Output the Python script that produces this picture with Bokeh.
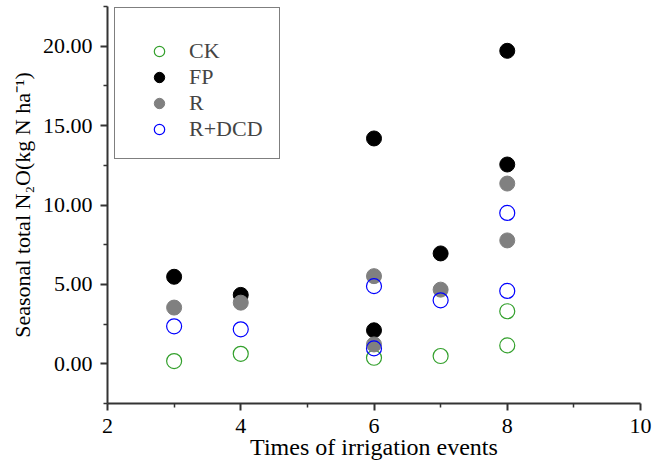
from bokeh.plotting import figure
from bokeh.models import Range1d, Legend, LegendItem, FixedTicker, CustomJSTickFormatter
from bokeh.embed import file_html
from bokeh.resources import INLINE

# Data
ck_x = [3, 4, 6, 7, 8, 8]
ck_y = [0.17, 0.63, 0.38, 0.49, 3.31, 1.16]
fp_x = [3, 4, 6, 6, 7, 8, 8]
fp_y = [5.48, 4.34, 14.19, 2.11, 6.95, 19.71, 12.55]
r_x = [3, 4, 6, 6, 7, 8, 8]
r_y = [3.54, 3.85, 5.52, 1.22, 4.67, 11.35, 7.77]
rd_x = [3, 4, 6, 6, 7, 8, 8]
rd_y = [2.36, 2.17, 4.89, 0.97, 4.00, 9.50, 4.59]

x_ticks = [2, 4, 6, 8, 10]
x_minor = [3, 5, 7, 9]
y_ticks = [0, 5, 10, 15, 20]
y_minor = [-2.5, 2.5, 7.5, 12.5, 17.5, 22.5]

FONT = "Liberation Serif"

p = figure(width=664, height=462, output_backend="svg", toolbar_location=None,
           x_range=Range1d(2, 10), y_range=Range1d(-2.5, 22.5),
           min_border_left=107, min_border_right=24, min_border_top=6,
           min_border_bottom=59)
p.outline_line_color = None
p.grid.visible = False
p.background_fill_color = "white"
p.border_fill_color = "white"

r_ck = p.scatter(ck_x, ck_y, size=15, fill_color=None, line_color="#33a02c", line_width=1.2)
r_fp = p.scatter(fp_x, fp_y, size=15, fill_color="black", line_color="black")
r_r = p.scatter(r_x, r_y, size=15, fill_color="#808080", line_color="#808080")
r_rd = p.scatter(rd_x, rd_y, size=15, fill_color=None, line_color="#0000ff", line_width=1.2)

for ax in (p.xaxis[0], p.yaxis[0]):
    ax.axis_line_width = 2
    ax.axis_line_color = "#333333"
    ax.major_tick_line_color = "#333333"
    ax.minor_tick_line_color = "#333333"
    ax.major_tick_line_width = 2
    ax.minor_tick_line_width = 1.5
    ax.major_tick_out = 7
    ax.major_tick_in = 0
    ax.minor_tick_out = 4
    ax.minor_tick_in = 0
    ax.major_label_text_font = FONT
    ax.major_label_text_font_size = "22px"
    ax.major_label_text_color = "black"
    ax.axis_label_text_font = FONT
    ax.axis_label_text_font_style = "normal"
    ax.axis_label_text_color = "black"

p.xaxis[0].ticker = FixedTicker(ticks=x_ticks, minor_ticks=x_minor)
p.yaxis[0].ticker = FixedTicker(ticks=y_ticks, minor_ticks=y_minor)
p.yaxis[0].formatter = CustomJSTickFormatter(code="return tick.toFixed(2);")
p.xaxis[0].axis_label = "Times of irrigation events"
p.yaxis[0].axis_label = "Seasonal total N\u2082O(kg N ha\u207b\u00b9)"
p.xaxis[0].axis_label_text_font_size = "24px"
p.yaxis[0].axis_label_text_font_size = "22px"
p.xaxis[0].major_label_standoff = 8
p.xaxis[0].axis_label_standoff = -2
p.yaxis[0].major_label_standoff = 8
p.yaxis[0].axis_label_standoff = 5

legend = Legend(items=[
    LegendItem(label="CK", renderers=[r_ck]),
    LegendItem(label="FP", renderers=[r_fp]),
    LegendItem(label="R", renderers=[r_r]),
    LegendItem(label="R+DCD", renderers=[r_rd]),
])
legend.location = (7, 244)
legend.border_line_color = "black"
legend.border_line_width = 1
legend.background_fill_alpha = 1
legend.label_text_font = FONT
legend.label_text_font_size = "22px"
legend.label_height = 26
legend.glyph_height = 26
legend.glyph_width = 56
legend.label_standoff = 2
legend.spacing = 0
legend.padding = 16
legend.margin = 0
legend.title = " "
legend.title_text_font_size = "12px"
legend.title_standoff = 0
p.add_layout(legend, "center")

open("out.html", "w").write(file_html(p, INLINE))
